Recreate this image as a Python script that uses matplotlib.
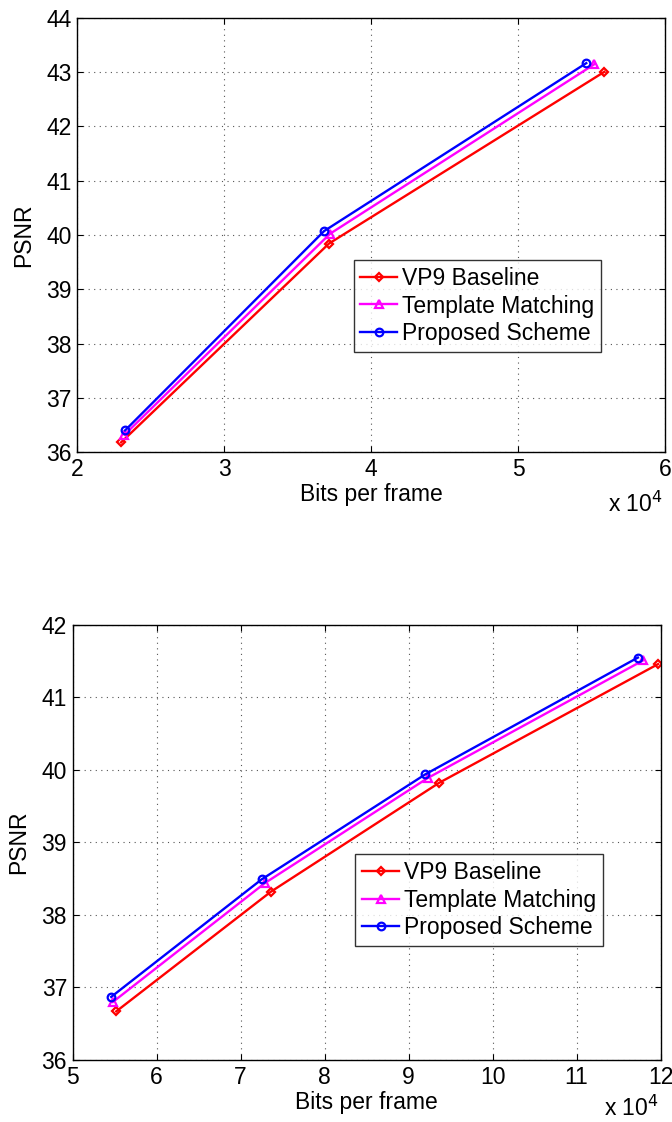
import matplotlib
matplotlib.use("Agg")
import matplotlib.pyplot as plt
from matplotlib.ticker import FuncFormatter

plt.rcParams['font.family'] = ['Liberation Sans', 'DejaVu Sans']

# top plot data (bits per frame, PSNR)
top_vp9_x = [22970, 37130, 55880]
top_vp9_y = [36.18, 39.84, 43.00]
top_tm_x = [23200, 37200, 55200]
top_tm_y = [36.32, 40.02, 43.14]
top_prop_x = [23240, 36800, 54650]
top_prop_y = [36.40, 40.07, 43.16]

# bottom plot data
bot_vp9_x = [55200, 73600, 93600, 119700]
bot_vp9_y = [36.67, 38.32, 39.82, 41.46]
bot_tm_x = [54800, 72900, 92300, 117900]
bot_tm_y = [36.80, 38.44, 39.89, 41.51]
bot_prop_x = [54600, 72500, 92000, 117300]
bot_prop_y = [36.87, 38.49, 39.94, 41.55]

labels = ['VP9 Baseline', 'Template Matching', 'Proposed Scheme']
fs = 16.5

fig = plt.figure(figsize=(6.72, 11.22), dpi=100)
ax1 = fig.add_axes([0.1153, 0.597, 0.874, 0.3874])
ax2 = fig.add_axes([0.108, 0.0553, 0.875, 0.3877])


def draw(ax, series, xlim, ylim, leg_box, exp_y):
    styles = [('red', 'D', 4.5), ('magenta', '^', 5.5), ('blue', 'o', 5.5)]
    for (x, y), (c, m, ms), lab in zip(series, styles, labels):
        ax.plot(x, y, color=c, marker=m, markersize=ms, markerfacecolor='none',
                markeredgewidth=1.6, linewidth=1.7, label=lab)
    ax.set_xlim(xlim)
    ax.set_ylim(ylim)
    ax.set_xticks(range(xlim[0], xlim[1] + 1, 10000))
    ax.xaxis.set_major_formatter(FuncFormatter(lambda v, p: '%d' % round(v / 1e4)))
    ax.grid(True, linestyle=(0, (1, 4)), color='#555555', linewidth=0.8)
    ax.tick_params(direction='in', labelsize=fs, length=4, pad=4,
                   top=True, right=True)
    for s in ax.spines.values():
        s.set_linewidth(1.0)
    ax.set_xlabel('Bits per frame', fontsize=fs, labelpad=2)
    ax.set_ylabel('PSNR', fontsize=fs, labelpad=8)
    ax.text(0.997, exp_y, 'x 10$^4$', transform=ax.transAxes, fontsize=fs,
            ha='right', va='center')
    leg = ax.legend(loc='upper left', bbox_to_anchor=leg_box, fontsize=fs,
                    frameon=True, fancybox=False, edgecolor='black',
                    handlelength=1.6, handletextpad=0.2, borderpad=0.3,
                    labelspacing=0.2, borderaxespad=0)
    leg.get_frame().set_linewidth(1.0)


draw(ax1, [(top_vp9_x, top_vp9_y), (top_tm_x, top_tm_y), (top_prop_x, top_prop_y)],
     (20000, 60000), (36, 44), (0.470, 0.442), -0.12)
draw(ax2, [(bot_vp9_x, bot_vp9_y), (bot_tm_x, bot_tm_y), (bot_prop_x, bot_prop_y)],
     (50000, 120000), (36, 42), (0.481, 0.473), -0.11)

fig.savefig('out.png', dpi=100)
